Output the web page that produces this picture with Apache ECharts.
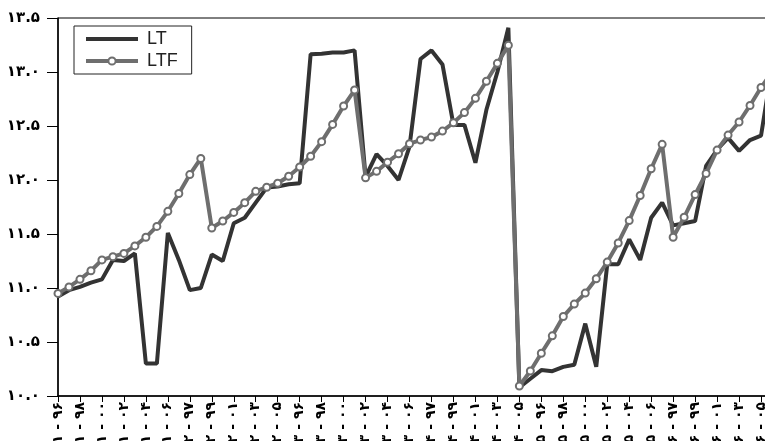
<!DOCTYPE html>
<html>
<head>
<meta charset="utf-8">
<script src="https://cdn.jsdelivr.net/npm/echarts@6/dist/echarts.min.js"></script>
<style>
html,body{margin:0;padding:0;background:#fff;}
#chart{width:765px;height:441px;}
</style>
</head>
<body>
<div id="chart"></div>
<script>
// Category labels: group id + year (Persian digits)
const groupIds = ['۱','۲','۳','۴','۵','۶','۷'];
const yearCodes = ['۹۶','۹۷','۹۸','۹۹','۰۰','۰۱','۰۲','۰۳','۰۴','۰۵','۰۶'];
const pointCount = 66;

// Series values
const LT = [10.92, 10.98, 11.01, 11.05, 11.08, 11.26, 11.25, 11.32, 10.30, 10.30,
            11.51, 11.26, 10.98, 11.00, 11.31, 11.25, 11.60, 11.65, 11.79, 11.93,
            11.94, 11.96, 11.97, 13.165, 13.17, 13.18, 13.18, 13.20, 12.03, 12.24,
            12.13, 12.00, 12.31, 13.12, 13.20, 13.07, 12.51, 12.51, 12.16, 12.65,
            13.00, 13.41, 10.08, 10.16, 10.24, 10.23, 10.27, 10.29, 10.67, 10.27,
            11.22, 11.22, 11.45, 11.26, 11.65, 11.79, 11.58, 11.60, 11.62, 12.13,
            12.28, 12.39, 12.27, 12.37, 12.41, 13.05];
const LTF = [10.95, 11.01, 11.08, 11.16, 11.26, 11.29, 11.32, 11.39, 11.47, 11.57,
             11.71, 11.875, 12.05, 12.20, 11.556, 11.62, 11.70, 11.79, 11.895, 11.933,
             11.97, 12.035, 12.12, 12.22, 12.355, 12.515, 12.685, 12.833, 12.02, 12.08,
             12.165, 12.243, 12.336, 12.37, 12.397, 12.453, 12.53, 12.624, 12.756, 12.914,
             13.08, 13.248, 10.093, 10.232, 10.396, 10.557, 10.736, 10.851, 10.953, 11.086,
             11.24, 11.417, 11.624, 11.856, 12.104, 12.33, 11.47, 11.655, 11.865, 12.06,
             12.277, 12.416, 12.537, 12.69, 12.856, 13.0];

// Y axis ticks
const yMin = 10, yMax = 13.5, yStep = 0.5;

const categories = groupIds.flatMap(g => yearCodes.map(y => g + ' - ' + y)).slice(0, pointCount);

const faDigits = '۰۱۲۳۴۵۶۷۸۹';
function toFa(s){ return String(s).replace(/[0-9]/g, d => faDigits[+d]); }

const chart = echarts.init(document.getElementById('chart'), null, {renderer:'canvas'});
chart.setOption({
  animation: false,
  backgroundColor: '#fff',
  grid: {left: 58, top: 18, right: -7, bottom: 45, show: true, borderColor: '#000', borderWidth: 1,
         containLabel: false, outerBoundsMode: 'none'},
  legend: {
    orient: 'vertical', left: 74, top: 26,
    backgroundColor: '#fff',
    borderColor: '#222', borderWidth: 1,
    padding: [4, 14, 4, 10],
    itemWidth: 52, itemHeight: 9, itemGap: 4,
    textStyle: {fontFamily: 'Liberation Sans, Arial', fontSize: 18, color: '#222', padding: [0, 0, 0, 4]},
    data: [
      {name: 'LT', itemStyle: {opacity: 0}, lineStyle: {width: 4, color: '#333'}},
      {name: 'LTF', lineStyle: {width: 4, color: '#6e6e6e'}}
    ]
  },
  xAxis: {
    type: 'category', data: categories, boundaryGap: false,
    axisLine: {lineStyle: {color: '#000', width: 1.5}},
    axisTick: {show: true, interval: 1, length: 6, lineStyle: {color: '#000'}},
    axisLabel: {interval: 1, rotate: 90, margin: 6, fontFamily: 'DejaVu Sans', fontSize: 14, fontWeight: 'bold', color: '#000'},
    splitLine: {show: false}
  },
  yAxis: {
    type: 'value', min: yMin, max: yMax, interval: yStep,
    axisLine: {show: true, lineStyle: {color: '#000', width: 1.5}},
    axisTick: {show: true, length: 11, lineStyle: {color: '#000'}},
    axisLabel: {margin: 18, fontFamily: 'DejaVu Sans', fontSize: 15, fontWeight: 'bold', color: '#000',
      formatter: v => toFa(v.toFixed(1))},
    splitLine: {show: false}
  },
  series: [
    {name: 'LT', type: 'line', data: LT, symbol: 'none',
     lineStyle: {color: '#333', width: 4}, itemStyle: {color: '#333'}},
    {name: 'LTF', type: 'line', data: LTF, symbol: 'circle', symbolSize: 7, showAllSymbol: true,
     lineStyle: {color: '#6e6e6e', width: 4},
     itemStyle: {color: '#fff', borderColor: '#6e6e6e', borderWidth: 2}}
  ]
});
</script>
</body>
</html>
